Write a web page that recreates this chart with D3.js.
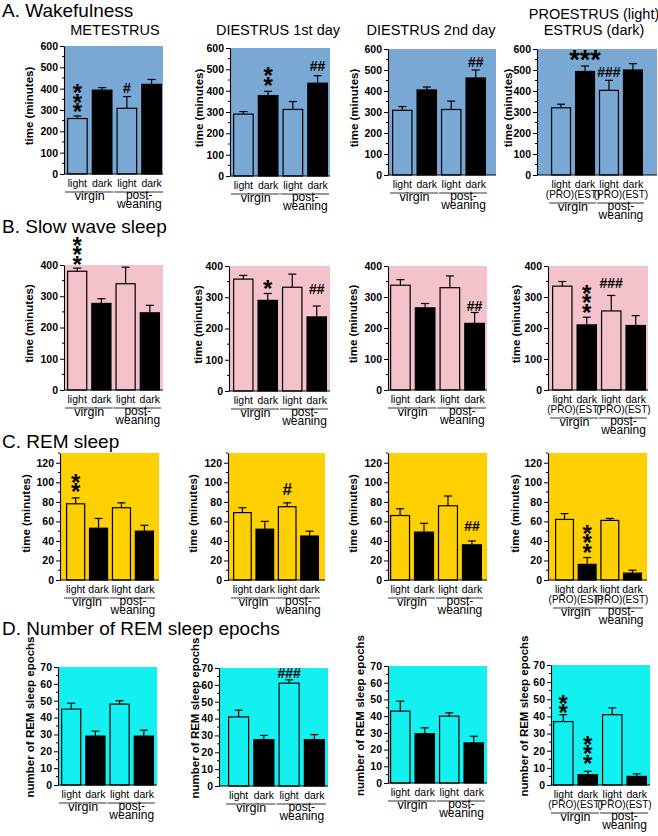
<!DOCTYPE html>
<html>
<head>
<meta charset="utf-8">
<script src="https://cdn.jsdelivr.net/npm/d3@7"></script>
<style>
  body { margin: 0; background: #fff; }
  svg { display: block; font-family: "Liberation Sans", Arial, sans-serif; }
</style>
</head>
<body>
<div id="chart"></div>
<script>
// ---- data ----
const rowTitles = ["A. Wakefulness", "B. Slow wave sleep", "C. REM sleep", "D. Number of REM sleep epochs"];
const stageTitles = [["METESTRUS"], ["DIESTRUS 1st day"], ["DIESTRUS 2nd day"], ["PROESTRUS (light)", "ESTRUS (dark)"]];
const conditions = ["light", "dark", "light", "dark"];
const phaseTags = ["(PRO)(EST)", "(PRO)(EST)"];
const groupNames = ["virgin", "post-weaning"];
const yLabels = ["time (minutes)", "time (minutes)", "time (minutes)", "number of REM sleep epochs"];
const yTicks = [
  [0, 100, 200, 300, 400, 500, 600],
  [0, 100, 200, 300, 400],
  [0, 20, 40, 60, 80, 100, 120],
  [0, 10, 20, 30, 40, 50, 60, 70]
];
const yMinorStep = [50, 50, 10, 5];
const yTop = [600, 400, 130, 70];

// means and SEM, per stage: [virgin light, virgin dark, post-weaning light, post-weaning dark]
const wakeMean = [[260, 393, 308, 420], [290, 377, 312, 435], [308, 405, 312, 462], [320, 493, 403, 500]];
const wakeSem = [[12, 12, 55, 23], [12, 20, 37, 35], [18, 14, 40, 38], [17, 26, 48, 30]];
const swsMean = [[380, 277, 340, 247], [358, 290, 332, 237], [338, 265, 330, 215], [335, 210, 255, 208]];
const swsSem = [[10, 15, 53, 24], [12, 22, 42, 35], [18, 14, 38, 35], [15, 25, 50, 32]];
const remMean = [[78, 53, 74, 50], [69, 52, 75, 45], [66, 49, 76, 36], [62, 16, 61, 7]];
const remSem = [[6, 10, 5, 6], [5, 8, 4, 5], [7, 9, 10, 4], [6, 7, 2, 3]];
const epochMean = [[45, 29, 48, 29], [41, 27.5, 61, 27.5], [43, 29.5, 40, 24], [37, 6, 41, 5]];
const epochSem = [[3.5, 3, 2, 3.5], [4, 2.5, 2, 3], [6, 3.5, 2, 4], [4, 2, 4, 1.5]];

// significance marks: [row, stage, bar, label]
const sigMarks = [
  [0, 0, 0, "***"], [0, 0, 2, "#"], [0, 1, 1, "**"], [0, 1, 3, "##"], [0, 2, 3, "##"],
  [0, 3, 1, "***"], [0, 3, 2, "###"],
  [1, 0, 0, "***"], [1, 1, 1, "*"], [1, 1, 3, "##"], [1, 2, 3, "##"], [1, 3, 1, "***"], [1, 3, 2, "###"],
  [2, 0, 0, "**"], [2, 1, 2, "#"], [2, 2, 3, "##"], [2, 3, 1, "***"],
  [3, 1, 2, "###"], [3, 3, 0, "**"], [3, 3, 1, "***"]
];

// ---- layout ----
const W = 658, H = 836;
const bgColors = ["#7aa8d4", "#f3c2ca", "#ffd000", "#12f0f0"];
const titleY = [16.5, 233, 448, 635];
const stageTitleX = [115, 278, 431, 594];
// per panel: [axisX, plotRight, barsLeft, barsRight, yTopPx, yZeroPx]
const boxes = [
  [[64, 163, 67, 162, 46, 174], [230, 330, 233, 328, 48, 176], [388, 496, 392, 486, 49, 175], [537, 657, 551, 643, 49, 175]],
  [[64, 163, 67, 160, 265, 390], [229, 330, 233, 327, 266, 391], [388, 487, 390, 485, 266, 390], [548, 648, 552, 646, 266, 390]],
  [[60, 159, 66, 154, 453, 580], [228, 325, 233, 319, 453, 580], [388, 487, 390, 482, 453, 580], [548, 647, 555, 642, 453, 580]],
  [[58, 157, 61, 154, 667, 785], [219, 328, 228, 325, 668, 786], [388, 487, 390, 484, 666, 783], [551, 650, 553, 647, 665, 785]]
];
const yLabelDx = [[-35, -31, -34, -29], [-35, -31, -35, -32], [-34, -35, -35, -33], [-28, -24, -28, -27]];
const yLabelDy = [-4, -4, -3, -9];
// mark style aligned with sigMarks: [orientation, lift above error bar, font size]
const sigStyle = [
  ["v", 9, 24], ["h", 3.5, 14], ["v", 11, 24], ["h", 5, 14], ["h", 3, 14],
  ["h", 12, 27], ["h", 3, 14],
  ["v", 9, 24], ["h", 10, 24], ["h", 12, 14], ["h", 2, 14], ["v", 10, 24], ["h", 7, 14],
  ["v", 11, 24], ["h", 8, 17], ["h", 10, 14], ["v", 10, 24],
  ["h", 2, 14], ["v", 7, 24], ["v", 13, 24]
];

const rows = [
  { mean: wakeMean, sem: wakeSem },
  { mean: swsMean, sem: swsSem },
  { mean: remMean, sem: remSem },
  { mean: epochMean, sem: epochSem }
];

const svg = d3.select("#chart").append("svg").attr("width", W).attr("height", H);
svg.append("rect").attr("width", W).attr("height", H).attr("fill", "#fff");

const scales = {}; // keep x/y per panel for the marks

rows.forEach((row, r) => {
  svg.append("text")
    .attr("x", 2).attr("y", titleY[r])
    .attr("font-size", 19)
    .text(rowTitles[r]);

  row.mean.forEach((vals, c) => {
    const [ax, pr, bl, br, yt, yz] = boxes[r][c];
    const sem = row.sem[c];
    const pro = c === 3;

    const y = d3.scaleLinear().domain([0, yTop[r]]).range([yz, yt]);
    const x = d3.scaleBand().domain(d3.range(4)).range([bl, br]).paddingInner(0.16);
    const bw = x.bandwidth();
    scales[r + "-" + c] = { x, y, sem, vals };

    const g = svg.append("g");

    // plot background
    g.append("rect")
      .attr("x", ax).attr("y", yt)
      .attr("width", pr - ax).attr("height", yz - yt)
      .attr("fill", bgColors[r]);

    // error bars (upper only)
    const err = g.selectAll(".err").data(vals).join("g");
    err.append("line")
      .attr("x1", (d, i) => x(i) + bw / 2).attr("x2", (d, i) => x(i) + bw / 2)
      .attr("y1", d => y(d)).attr("y2", (d, i) => y(d + sem[i]))
      .attr("stroke", "#000").attr("stroke-width", 1.2);
    err.append("line")
      .attr("x1", (d, i) => x(i) + bw / 2 - 4).attr("x2", (d, i) => x(i) + bw / 2 + 4)
      .attr("y1", (d, i) => y(d + sem[i])).attr("y2", (d, i) => y(d + sem[i]))
      .attr("stroke", "#000").attr("stroke-width", 1.2);

    // bars
    g.selectAll(".bar").data(vals).join("rect")
      .attr("x", (d, i) => x(i) + 0.6)
      .attr("y", d => y(d))
      .attr("width", bw - 1.2)
      .attr("height", d => yz - y(d))
      .attr("fill", (d, i) => (i % 2 ? "#000" : "none"))
      .attr("stroke", "#000")
      .attr("stroke-width", 1.2);

    // x baseline
    g.append("line")
      .attr("x1", ax).attr("x2", pr).attr("y1", yz).attr("y2", yz)
      .attr("stroke", "#000").attr("stroke-width", 1);

    // y axis
    const axis = g.append("g")
      .attr("transform", `translate(${ax},0)`)
      .call(d3.axisLeft(y).tickValues(yTicks[r]).tickSize(4).tickSizeOuter(0).tickPadding(2).tickFormat(d3.format("d")));
    axis.select(".domain").attr("stroke", "#000").attr("stroke-width", 1.1);
    axis.selectAll(".tick line").attr("stroke", "#000");
    axis.selectAll(".tick text")
      .attr("font-family", '"Liberation Sans", Arial, sans-serif')
      .attr("font-size", 10.5).attr("font-weight", "bold").attr("fill", "#000");
    const minor = d3.range(0, yTop[r] + 1e-6, yMinorStep[r]).filter(v => !yTicks[r].includes(v));
    axis.selectAll(".minor").data(minor).join("line")
      .attr("x1", -2).attr("x2", 0)
      .attr("y1", d => y(d)).attr("y2", d => y(d))
      .attr("stroke", "#000");

    // y label
    g.append("text")
      .attr("transform", `translate(${ax + yLabelDx[r][c] + 4},${(yt + yz) / 2 + yLabelDy[r]}) rotate(-90)`)
      .attr("text-anchor", "middle")
      .attr("font-size", 11.5).attr("font-weight", "bold")
      .text(yLabels[r]);

    // category labels
    g.selectAll(".cond").data(conditions).join("text")
      .attr("x", (d, i) => x(i) + bw / 2)
      .attr("y", yz + 13)
      .attr("text-anchor", "middle")
      .attr("font-size", 10.5)
      .text(d => d);

    const pairs = [[0, 1], [2, 3]];
    const shift = pro ? 10 : 0;
    if (pro) {
      g.selectAll(".tag").data(phaseTags).join("text")
        .attr("x", (d, k) => (x(pairs[k][0]) + x(pairs[k][1]) + bw) / 2)
        .attr("y", yz + 23)
        .attr("text-anchor", "middle")
        .attr("font-size", 10)
        .text(d => d);
    }
    pairs.forEach(([a, b], k) => {
      g.append("line")
        .attr("x1", x(a) - 2).attr("x2", x(b) + bw + 1)
        .attr("y1", yz + 18 + shift).attr("y2", yz + 18 + shift)
        .attr("stroke", "#333").attr("stroke-width", 1);
      const cx = (x(a) + x(b) + bw) / 2;
      if (k === 0) {
        g.append("text").attr("x", cx).attr("y", yz + 26 + shift)
          .attr("text-anchor", "middle").attr("font-size", 12.5)
          .text(groupNames[0]);
      } else {
        const parts = groupNames[1].split("-");
        g.append("text").attr("x", cx).attr("y", yz + 25 + shift)
          .attr("text-anchor", "middle").attr("font-size", 12)
          .text(parts[0] + "-");
        g.append("text").attr("x", cx).attr("y", yz + 34 + shift)
          .attr("text-anchor", "middle").attr("font-size", 12)
          .text(parts[1]);
      }
    });

    // stage titles on the top row
    if (r === 0) {
      const lines = stageTitles[c];
      lines.forEach((t, k) => {
        svg.append("text")
          .attr("x", stageTitleX[c])
          .attr("y", lines.length > 1 ? 19 + k * 16 : 35)
          .attr("text-anchor", "middle")
          .attr("font-size", 14.5)
          .text(t);
      });
    }
  });
});

// significance marks
sigMarks.forEach(([r, c, i, label], k) => {
  const [orient, lift, size] = sigStyle[k];
  const { x, y, sem, vals } = scales[r + "-" + c];
  const cx = x(i) + x.bandwidth() / 2;
  const top = y(vals[i] + sem[i]);
  const isStar = label[0] === "*";
  const t = svg.append("text")
    .attr("text-anchor", "middle")
    .attr("font-size", size).attr("font-weight", "bold");
  if (isStar && orient === "v") {
    // stacked vertically, bottom star first
    label.split("").forEach((s, j) => {
      t.append("tspan")
        .attr("x", cx)
        .attr("y", top - lift - (label.length - 1 - j) * 9.5 + size * 0.56)
        .text(s);
    });
  } else if (isStar) {
    t.attr("x", cx).attr("y", top - lift + size * 0.56).text(label);
  } else {
    t.attr("x", cx).attr("y", top - lift).text(label);
  }
});
</script>
</body>
</html>
